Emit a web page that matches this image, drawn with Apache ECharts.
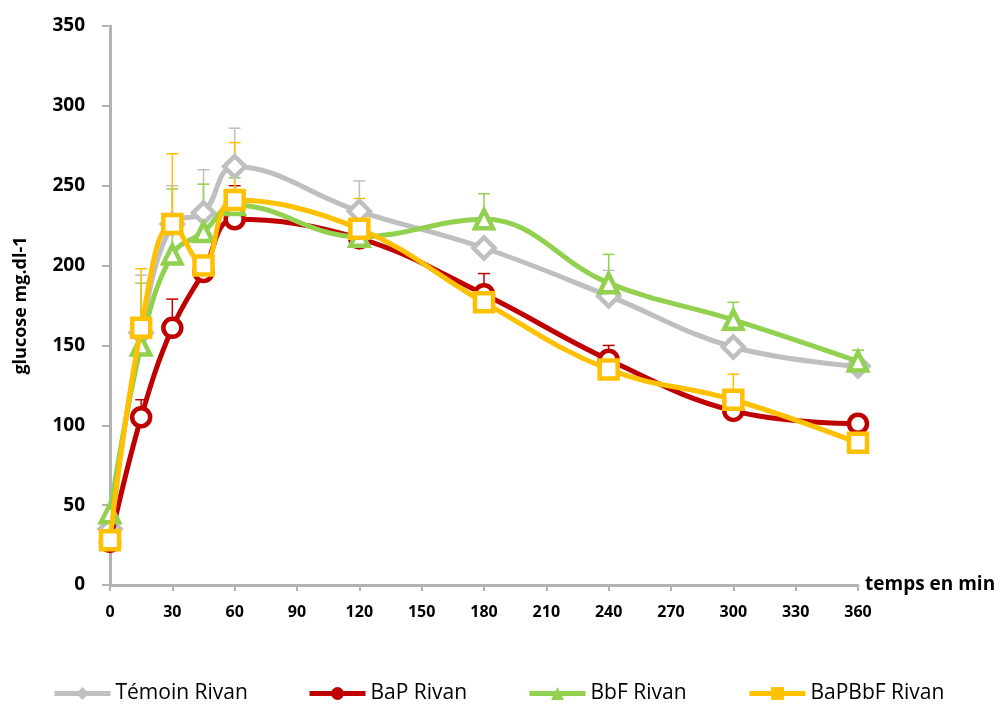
<!DOCTYPE html>
<html><head><meta charset="utf-8">
<script src="https://cdn.jsdelivr.net/npm/echarts@6/dist/echarts.min.js"></script>
<style>html,body{margin:0;padding:0;background:#fff}#c{width:1005px;height:704px}</style>
</head><body><div id="c"></div>
<script>
const times = [0, 15, 30, 45, 60, 120, 180, 240, 300, 360];
const seriesNames = ['Témoin Rivan', 'BaP Rivan', 'BbF Rivan', 'BaPBbF Rivan'];
const temoin = [35, 158, 226, 233, 262, 234, 211, 181, 149, 137];
const temoinErr = [null, 194, 250, 260, 286, 253, null, 197, 154, null];
const bap = [27, 105, 161, 196, 229, 217, 182, 141, 109, 101];
const bapErr = [null, 116, 179, null, 250, 222, 195, 150, null, null];
const bbf = [45, 150, 207, 221, 238, 218, 229, 189, 166, 140];
const bbfErr = [null, 189, 248, 251, 255, null, 245, 207, 177, 147];
const bapbbf = [28, 161, 226, 200, 241, 223, 177, 135, 116, 89];
const bapbbfErr = [null, 198, 270, null, 277, 242, null, null, 132, null];

const colors = ['#BFBFBF', '#C00000', '#92D050', '#FFC000'];
const symbols = ['diamond', 'circle', 'triangle', 'rect'];
const values = [temoin, bap, bbf, bapbbf];
const errs = [temoinErr, bapErr, bbfErr, bapbbfErr];
const legendLeft = [52, 307, 527, 747];

const chart = echarts.init(document.getElementById('c'));
const lineSeries = values.map((v, i) => ({
  name: seriesNames[i],
  type: 'line',
  data: times.map((t, j) => [t, v[j]]),
  smooth: 0.4,
  symbol: symbols[i],
  symbolSize: symbols[i] === 'diamond' ? 21 : 18,
  lineStyle: { color: colors[i], width: 5 },
  itemStyle: { color: '#fff', borderColor: colors[i], borderWidth: 4.5 },
  z: 3 + i
}));
const errSeries = values.map((v, i) => ({
  name: seriesNames[i] + ' err',
  type: 'custom',
  data: times.map((t, j) => [t, v[j], errs[i][j]]).filter(d => d[2] != null),
  renderItem: function (params, api) {
    const p0 = api.coord([api.value(0), api.value(1)]);
    const p1 = api.coord([api.value(0), api.value(2)]);
    const style = { stroke: colors[i], lineWidth: 1.5 };
    return { type: 'group', children: [
      { type: 'line', shape: { x1: p0[0], y1: p0[1], x2: p1[0], y2: p1[1] }, style },
      { type: 'line', shape: { x1: p1[0] - 6, y1: p1[1], x2: p1[0] + 6, y2: p1[1] }, style }
    ]};
  },
  z: 2
}));

const legends = seriesNames.map((n, i) => ({
  data: [{ name: n, itemStyle: { color: colors[i], borderColor: colors[i], borderWidth: 0 }, lineStyle: { color: colors[i], width: 5 } }],
  top: 683,
  left: legendLeft[i],
  padding: 0,
  itemWidth: 56,
  itemHeight: 16,
  itemGap: 0,
  textStyle: { fontFamily: 'Open Sans, sans-serif', fontSize: 21, color: '#000' }
}));

chart.setOption({
  animation: false,
  grid: { left: 110, right: 147, top: 26, bottom: 119, containLabel: false },
  legend: legends,
  xAxis: {
    type: 'value', min: 0, max: 360, interval: 30,
    name: 'temps en min', nameLocation: 'end', nameGap: 7,
    nameTextStyle: { fontFamily: 'Open Sans, sans-serif', fontWeight: 'bold', fontSize: 19, color: '#000', verticalAlign: 'middle' },
    axisLine: { lineStyle: { color: '#B3B3B3', width: 3 } },
    axisTick: { show: true, length: 6, lineStyle: { color: '#B3B3B3', width: 2 } },
    axisLabel: { fontFamily: 'Open Sans, sans-serif', fontWeight: 'bold', fontSize: 16, color: '#000', margin: 19 },
    splitLine: { show: false }
  },
  yAxis: {
    type: 'value', min: 0, max: 350, interval: 50,
    name: 'glucose mg.dl-1', nameLocation: 'middle', nameGap: 80, nameRotate: 90,
    nameTextStyle: { fontFamily: 'Open Sans, sans-serif', fontWeight: 'bold', fontSize: 18, color: '#000' },
    axisLine: { show: true, lineStyle: { color: '#B3B3B3', width: 3 } },
    axisTick: { show: true, length: 8, lineStyle: { color: '#B3B3B3', width: 2 } },
    axisLabel: { fontFamily: 'Open Sans, sans-serif', fontWeight: 'bold', fontSize: 19, color: '#000', margin: 25 },
    splitLine: { show: false }
  },
  series: [...errSeries, ...lineSeries]
});
</script>
</body></html>
